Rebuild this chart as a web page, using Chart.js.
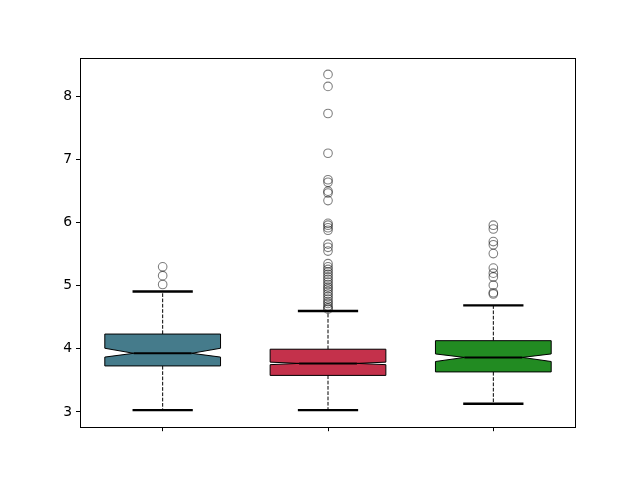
<!DOCTYPE html>
<html>
<head>
<meta charset="utf-8">
<script src="https://cdn.jsdelivr.net/npm/chart.js@4/dist/chart.umd.min.js"></script>
<style>
  html, body { margin: 0; padding: 0; background: #fff; }
  #wrap { width: 640px; height: 480px; }
</style>
</head>
<body>
<div id="wrap"><canvas id="boxChart" width="640" height="480"></canvas></div>
<script>
// three groups, placed at x = 1, 2, 3 (no tick labels in the original)
const positions = [1, 2, 3];
const boxColors = ['#457b8b', '#c4314b', '#228b22'];

const whiskerLow = [3.03, 3.03, 3.13];
const q1 = [3.73, 3.58, 3.635];
const notchLow = [3.87, 3.75, 3.80];
const medians = [3.93, 3.77, 3.865];
const notchHigh = [4.01, 3.79, 3.92];
const q3 = [4.235, 3.995, 4.13];
const whiskerHigh = [4.91, 4.60, 4.69];

const outliers1 = [5.02, 5.16, 5.30];
const outliers2 = [8.35, 8.16, 7.73, 7.10, 6.68, 6.64, 6.50, 6.47, 6.35, 5.99, 5.96, 5.92, 5.88,
  5.66, 5.61, 5.55, 5.35, 5.30, 5.26, 5.22, 5.18, 5.14, 5.10, 5.06, 5.02, 4.98, 4.95, 4.91,
  4.87, 4.83, 4.79, 4.75, 4.72, 4.68, 4.65, 4.63];
const outliers3 = [5.96, 5.90, 5.70, 5.65, 5.51, 5.28, 5.20, 5.14, 5.01, 4.89, 4.87];

const yTicks = [3, 4, 5, 6, 7, 8];
const xTicks = [1, 2, 3];

const allOutliers = [outliers1, outliers2, outliers3];
const flierPoints = [];
allOutliers.forEach((list, i) => {
  list.forEach(v => flierPoints.push({ x: positions[i], y: v }));
});

const boxWidth = 0.7;
const capWidth = 0.35;

const boxPlugin = {
  id: 'boxPlugin',
  beforeDatasetsDraw(chart) {
    const c = chart.ctx;
    const xs = chart.scales.x;
    const ys = chart.scales.y;
    const area = chart.chartArea;
    c.save();
    c.beginPath();
    c.rect(area.left, area.top, area.right - area.left, area.bottom - area.top);
    c.clip();
    positions.forEach((p, i) => {
      const cx = xs.getPixelForValue(p);
      const left = xs.getPixelForValue(p - boxWidth / 2);
      const right = xs.getPixelForValue(p + boxWidth / 2);
      const capL = xs.getPixelForValue(p - capWidth / 2);
      const capR = xs.getPixelForValue(p + capWidth / 2);
      const yq1 = ys.getPixelForValue(q1[i]);
      const yq3 = ys.getPixelForValue(q3[i]);
      const ymed = ys.getPixelForValue(medians[i]);
      const ynl = ys.getPixelForValue(notchLow[i]);
      const ynh = ys.getPixelForValue(notchHigh[i]);
      const ywl = ys.getPixelForValue(whiskerLow[i]);
      const ywh = ys.getPixelForValue(whiskerHigh[i]);

      // whiskers
      c.strokeStyle = '#000';
      c.lineWidth = 1;
      c.setLineDash([3.7, 1.6]);
      c.beginPath();
      c.moveTo(cx, yq1); c.lineTo(cx, ywl);
      c.moveTo(cx, yq3); c.lineTo(cx, ywh);
      c.stroke();
      c.setLineDash([]);

      // caps
      c.lineWidth = 2.4;
      c.lineCap = 'square';
      c.beginPath();
      c.moveTo(capL, ywl); c.lineTo(capR, ywl);
      c.moveTo(capL, ywh); c.lineTo(capR, ywh);
      c.stroke();
      c.lineCap = 'butt';

      // notched box
      c.beginPath();
      c.moveTo(left, yq1);
      c.lineTo(right, yq1);
      c.lineTo(right, ynl);
      c.lineTo(capR, ymed);
      c.lineTo(right, ynh);
      c.lineTo(right, yq3);
      c.lineTo(left, yq3);
      c.lineTo(left, ynh);
      c.lineTo(capL, ymed);
      c.lineTo(left, ynl);
      c.closePath();
      c.fillStyle = boxColors[i];
      c.fill();
      c.lineWidth = 1;
      c.strokeStyle = '#000';
      c.lineJoin = 'miter';
      c.stroke();

      // median
      c.lineWidth = 2;
      c.beginPath();
      c.moveTo(capL, ymed); c.lineTo(capR, ymed);
      c.stroke();
    });
    c.restore();
  },
  afterDraw(chart) {
    const c = chart.ctx;
    const a = chart.chartArea;
    c.save();
    c.strokeStyle = '#000';
    c.lineWidth = 1;
    c.strokeRect(Math.round(a.left) + 0.5, Math.round(a.top) + 0.5,
      Math.round(a.right - a.left) - 1, Math.round(a.bottom - a.top) - 1);
    c.restore();
  }
};

new Chart(document.getElementById('boxChart'), {
  type: 'scatter',
  data: {
    datasets: [{
      label: 'fliers',
      data: flierPoints,
      pointStyle: 'circle',
      pointRadius: 4.3,
      pointHoverRadius: 4.3,
      pointBackgroundColor: 'rgba(0,0,0,0)',
      pointBorderColor: 'rgba(0,0,0,0.5)',
      pointBorderWidth: 1.1,
      showLine: false
    }]
  },
  options: {
    responsive: false,
    animation: false,
    devicePixelRatio: 1,
    layout: { padding: { left: 0, top: 57.6, right: 64, bottom: 0 } },
    plugins: {
      legend: { display: false },
      tooltip: { enabled: false }
    },
    scales: {
      x: {
        type: 'linear',
        min: 0.5,
        max: 3.5,
        afterBuildTicks: (scale) => { scale.ticks = xTicks.map(v => ({ value: v })); },
        afterFit: (scale) => { scale.height = 52.8; },
        ticks: { callback: () => '', padding: 3 },
        grid: { display: true, drawOnChartArea: false, drawTicks: true, tickLength: 4, color: '#000' },
        border: { display: false }
      },
      y: {
        type: 'linear',
        min: 2.759,
        max: 8.616,
        afterBuildTicks: (scale) => { scale.ticks = yTicks.map(v => ({ value: v })); },
        afterFit: (scale) => { scale.width = 80; },
        ticks: {
          color: '#000',
          padding: 4,
          font: { family: 'DejaVu Sans', size: 13.9 }
        },
        grid: { display: true, drawOnChartArea: false, drawTicks: true, tickLength: 4, color: '#000' },
        border: { display: false }
      }
    }
  },
  plugins: [boxPlugin]
});
</script>
</body>
</html>
